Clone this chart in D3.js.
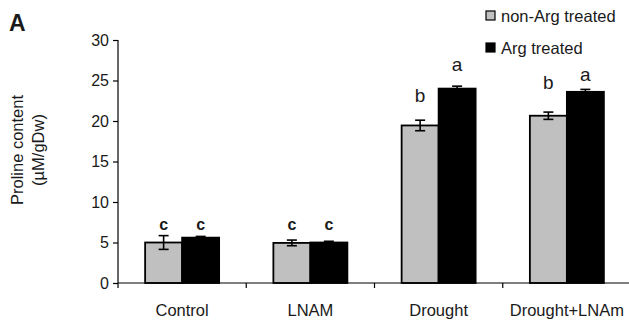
<!DOCTYPE html>
<html>
<head>
<meta charset="utf-8">
<script src="https://cdn.jsdelivr.net/npm/d3@7"></script>
<style>
  body { margin: 0; background: #fff; }
  text { font-family: "Liberation Sans", Arial, sans-serif; fill: #1a1a1a; }
</style>
</head>
<body>
<div id="chart"></div>
<script>
// data
var categories = ["Control", "LNAM", "Drought", "Drought+LNAm"];
var seriesNames = ["non-Arg treated", "Arg treated"];
var nonArg = [5.0, 4.95, 19.45, 20.65];
var nonArgErr = [0.85, 0.35, 0.65, 0.45];
var argVals = [5.6, 5.0, 24.0, 23.6];
var argErr = [0.15, 0.15, 0.3, 0.3];
var nonArgLetters = ["c", "c", "b", "b"];
var argLetters = ["c", "c", "a", "a"];
var nonArgLetterY = [6.5, 6.5, 22.3, 23.9];
var argLetterY = [6.5, 6.5, 26.2, 25.0];
var yTicks = [0, 5, 10, 15, 20, 25, 30];

var W = 629, H = 320;
var svg = d3.select("#chart").append("svg")
    .attr("width", W).attr("height", H);

var y = d3.scaleLinear().domain([0, 30]).range([283, 40]);
var x0 = d3.scaleBand().domain(categories).range([118, 631]).padding(0);
var bw = x0.bandwidth();
var x1 = d3.scaleBand().domain(seriesNames).range([bw / 2 - 37, bw / 2 + 37]);
var colors = {"non-Arg treated": "#c0c0c0", "Arg treated": "#000"};

var rows = [];
categories.forEach(function(c, i) {
  rows.push({cat: c, s: seriesNames[0], v: nonArg[i], e: nonArgErr[i], l: nonArgLetters[i], ly: nonArgLetterY[i]});
  rows.push({cat: c, s: seriesNames[1], v: argVals[i], e: argErr[i], l: argLetters[i], ly: argLetterY[i]});
});

function cx(d) { return x0(d.cat) + x1(d.s) + x1.bandwidth() / 2; }

// bars
svg.selectAll(".bar").data(rows).enter().append("rect")
  .attr("class", "bar")
  .attr("x", function(d) { return x0(d.cat) + x1(d.s); })
  .attr("y", function(d) { return y(d.v); })
  .attr("width", x1.bandwidth())
  .attr("height", function(d) { return y(0) - y(d.v); })
  .attr("fill", function(d) { return colors[d.s]; })
  .attr("stroke", "#000")
  .attr("stroke-width", 1.8);

// error bars
var eb = svg.selectAll(".err").data(rows).enter().append("g").attr("class", "err")
  .attr("stroke", "#000").attr("stroke-width", 1.6);
eb.append("line")
  .attr("x1", cx).attr("x2", cx)
  .attr("y1", function(d) { return y(d.v - d.e); })
  .attr("y2", function(d) { return y(d.v + d.e); });
[-1, 1].forEach(function(sgn) {
  eb.append("line")
    .attr("x1", function(d) { return cx(d) - 5; })
    .attr("x2", function(d) { return cx(d) + 5; })
    .attr("y1", function(d) { return y(d.v + sgn * d.e); })
    .attr("y2", function(d) { return y(d.v + sgn * d.e); });
});

// significance letters
svg.selectAll(".letter").data(rows).enter().append("text")
  .attr("class", "letter")
  .attr("x", cx)
  .attr("y", function(d) { return y(d.ly); })
  .attr("text-anchor", "middle")
  .attr("font-size", function(d) { return d.l == "c" ? 16 : 19; })
  .attr("font-weight", function(d) { return d.l == "c" ? "bold" : "normal"; })
  .text(function(d) { return d.l; });

// y axis
var yAxis = svg.append("g")
  .attr("transform", "translate(118,0)")
  .call(d3.axisLeft(y).tickValues(yTicks).tickSize(5).tickPadding(4));
yAxis.select(".domain").attr("d", "M0," + y(30) + "V" + (y(0) + 5));
yAxis.selectAll("text").attr("font-size", 16).attr("font-family", "Liberation Sans, Arial, sans-serif").attr("fill", "#222");
yAxis.selectAll("line, path").attr("stroke", "#000").attr("stroke-width", 1.2);

// x axis
var xg = svg.append("g").attr("transform", "translate(0," + y(0) + ")");
xg.append("line").attr("x1", 118).attr("x2", 631).attr("stroke", "#000").attr("stroke-width", 1.2);
xg.selectAll(".xt").data(categories.slice(1)).enter().append("line")
  .attr("x1", function(d) { return x0(d); }).attr("x2", function(d) { return x0(d); })
  .attr("y1", 0).attr("y2", 5).attr("stroke", "#000").attr("stroke-width", 1.2);
xg.selectAll(".xl").data(categories).enter().append("text")
  .attr("x", function(d) { return x0(d) + bw / 2; })
  .attr("y", 33)
  .attr("text-anchor", "middle")
  .attr("font-size", 16.5)
  .text(function(d) { return d; });

// y label
var yl = svg.append("text")
  .attr("transform", "translate(23,150) rotate(-90)")
  .attr("text-anchor", "middle")
  .attr("font-size", 16.5);
yl.append("tspan").attr("x", 0).attr("dy", 0).text("Proline content");
yl.append("tspan").attr("x", 0).attr("dy", 21).text("(µM/gDw)");

// panel letter
svg.append("text").attr("x", 9).attr("y", 31)
  .attr("font-size", 23).attr("font-weight", "bold").text("A");

// legend
var lg = svg.selectAll(".leg").data(seriesNames).enter().append("g")
  .attr("transform", function(d, i) { return "translate(486," + (11 + i * 32) + ")"; });
lg.append("rect").attr("width", 9).attr("height", 9)
  .attr("fill", function(d) { return colors[d]; })
  .attr("stroke", "#000").attr("stroke-width", 1.2);
lg.append("text").attr("x", 15).attr("y", 10.5).attr("font-size", 16.5).text(function(d) { return d; });
</script>
</body>
</html>
